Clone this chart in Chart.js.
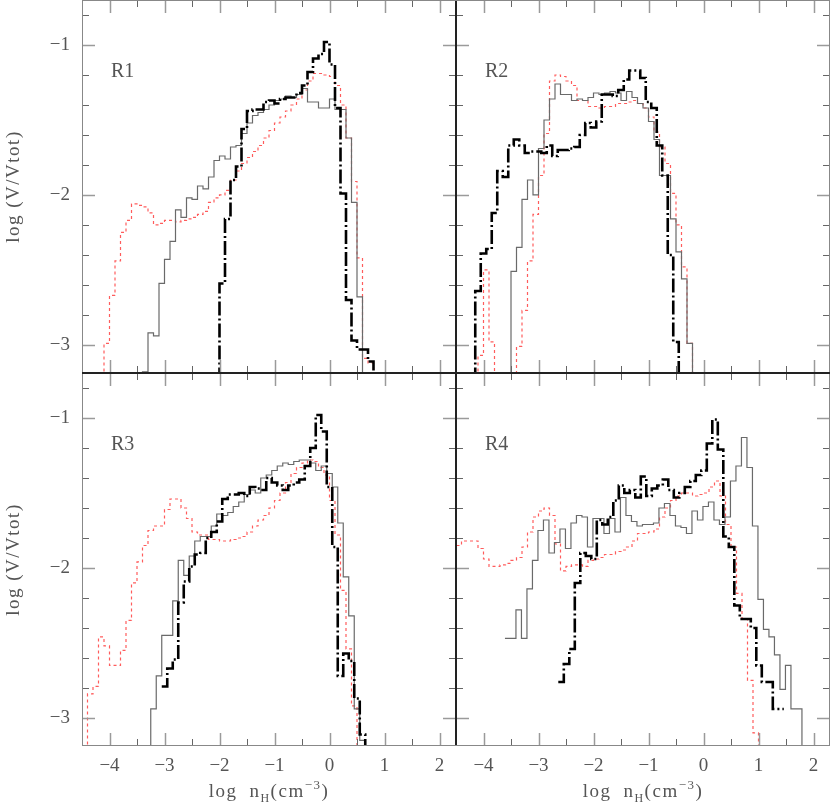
<!DOCTYPE html>
<html>
<head>
<meta charset="utf-8">
<script src="https://cdn.jsdelivr.net/npm/chart.js@4.4.1/dist/chart.umd.min.js"></script>
<style>
  html, body { margin: 0; padding: 0; background: #fff; }
  #wrap { position: relative; width: 830px; height: 809px; }
  .panel { position: absolute; }
</style>
</head>
<body>
<div id="wrap">
  <div class="panel" style="left:0;top:0;width:456px;height:373px"><canvas id="r1"></canvas></div>
  <div class="panel" style="left:456px;top:0;width:374px;height:373px"><canvas id="r2"></canvas></div>
  <div class="panel" style="left:0;top:373px;width:456px;height:436px"><canvas id="r3"></canvas></div>
  <div class="panel" style="left:456px;top:373px;width:374px;height:436px"><canvas id="r4"></canvas></div>
</div>
<script>
// histogram bins are 0.1 dex wide; FLOOR marks an empty bin (below the plotted range)
const FLOOR = -3.5;
const BIN = 0.1;

const X_TICKS = [-4, -3, -2, -1, 0, 1, 2];
const Y_TICKS = [-3, -2, -1];
const PANEL_NAMES = ["R1", "R2", "R3", "R4"];

// R1
const r1BlackStart = -2.1;
const r1Black = [FLOOR, -2.59, -2.16, -1.90, -1.81, -1.56, -1.44, -1.43, -1.43, -1.38, -1.37, -1.39, -1.36, -1.35, -1.35, -1.32, -1.27, -1.18, -1.09, -1.06, -0.98, -1.13, -1.42, -1.99, -2.70, -2.97, -3.03, -3.03, -3.11, FLOOR];
const r1GrayStart = -3.5;
const r1Gray = [FLOOR, -3.18, -2.92, -2.94, -2.59, -2.43, -2.31, -2.10, -2.15, -2.02, -2.03, -1.94, -1.96, -1.88, -1.77, -1.74, -1.76, -1.68, -1.67, -1.59, -1.52, -1.47, -1.45, -1.43, -1.40, -1.37, -1.36, -1.34, -1.35, -1.33, -1.29, -1.38, -1.38, -1.42, -1.42, -1.36, -1.43, -1.43, -1.62, -2.05, -2.68, FLOOR];
const r1RedStart = -4.2;
const r1Red = [FLOOR, -2.99, -2.67, -2.44, -2.25, -2.17, -2.06, -2.07, -2.08, -2.12, -2.20, -2.19, -2.17, -2.17, -2.18, -2.17, -2.16, -2.15, -2.13, -2.11, -2.05, -2.02, -2.00, -1.97, -1.90, -1.84, -1.79, -1.75, -1.71, -1.67, -1.62, -1.57, -1.52, -1.48, -1.44, -1.40, -1.36, -1.30, -1.24, -1.19, -1.19, -1.20, -1.21, -1.27, -1.40, -1.62, -1.91, -2.42, -3.09, -3.12, FLOOR];

// R2
const r2BlackStart = -4.25;
const r2Black = [FLOOR, -2.64, -2.39, -2.36, -2.12, -1.84, -1.88, -1.67, -1.63, -1.67, -1.72, -1.71, -1.71, -1.72, -1.67, -1.74, -1.70, -1.70, -1.69, -1.68, -1.60, -1.52, -1.55, -1.51, -1.33, -1.33, -1.34, -1.30, -1.23, -1.17, -1.17, -1.22, -1.38, -1.42, -1.67, -1.87, -2.40, -2.98, FLOOR];
const r2GrayStart = -3.6;
const r2Gray = [FLOOR, -2.51, -2.35, -2.03, -1.90, -2.00, -1.69, -1.50, -1.36, -1.26, -1.33, -1.33, -1.37, -1.36, -1.37, -1.35, -1.32, -1.33, -1.32, -1.31, -1.32, -1.37, -1.31, -1.35, -1.39, -1.42, -1.51, -1.63, -1.87, -1.87, -2.16, -2.38, -2.56, -2.99, FLOOR];
const r2RedStart = -4.2;
const r2Red = [FLOOR, -3.07, -2.50, -2.98, FLOOR, FLOOR, FLOOR, FLOOR, -3.01, -2.77, -2.44, -2.13, -1.87, -1.59, -1.24, -1.20, -1.21, -1.24, -1.27, -1.37, -1.37, -1.41, -1.41, -1.42, -1.41, -1.41, -1.39, -1.39, -1.38, -1.37, -1.39, -1.42, -1.48, -1.58, -1.68, -1.79, -1.99, -2.20, -2.48, -2.99, FLOOR];

// R3
const r3BlackStart = -3.05;
const r3Black = [-2.79, -2.67, -2.61, -2.23, -2.09, -1.99, -1.91, -1.90, -1.80, -1.76, -1.69, -1.54, -1.51, -1.51, -1.50, -1.52, -1.46, -1.47, -1.48, -1.40, -1.43, -1.45, -1.48, -1.45, -1.43, -1.41, -1.32, -1.20, -0.98, -1.09, -1.46, -1.86, -2.72, -2.57, -2.62, -2.87, -3.11, FLOOR];
const r3GrayStart = -3.35;
const r3Gray = [FLOOR, -2.94, -2.72, -2.45, -2.45, -2.22, -1.95, -2.05, -1.92, -1.82, -1.79, -1.79, -1.72, -1.64, -1.65, -1.63, -1.59, -1.56, -1.51, -1.48, -1.50, -1.40, -1.38, -1.35, -1.32, -1.30, -1.31, -1.29, -1.28, -1.28, -1.30, -1.35, -1.32, -1.37, -1.46, -1.70, -2.06, -2.32, -2.94, -3.15, FLOOR];
const r3RedStart = -4.5;
const r3Red = [FLOOR, -2.84, -2.79, -2.46, -2.52, -2.65, -2.65, -2.55, -2.35, -2.10, -1.96, -1.85, -1.75, -1.72, -1.72, -1.61, -1.54, -1.54, -1.60, -1.67, -1.76, -1.78, -1.78, -1.81, -1.81, -1.82, -1.82, -1.81, -1.80, -1.79, -1.76, -1.72, -1.68, -1.65, -1.60, -1.55, -1.50, -1.43, -1.37, -1.33, -1.30, -1.28, -1.29, -1.33, -1.38, -1.55, -1.78, -2.15, -2.54, -2.92, FLOOR];

// R4
const r4BlackStart = -2.64;
const r4Black = [-2.76, -2.64, -2.54, -2.10, -1.90, -1.92, -1.94, -1.68, -1.71, -1.66, -1.55, -1.45, -1.50, -1.48, -1.53, -1.39, -1.52, -1.47, -1.45, -1.41, -1.48, -1.53, -1.50, -1.46, -1.42, -1.38, -1.35, -1.17, -1.01, -1.21, -1.79, -1.86, -2.25, -2.34, -2.34, -2.40, -2.65, -2.76, -2.76, -2.94, -2.94];
const r4GrayStart = -3.61;
const r4Gray = [-2.47, -2.47, -2.28, -2.47, -2.14, -1.95, -1.75, -1.68, -1.90, -1.83, -1.74, -1.87, -1.70, -1.65, -1.66, -1.86, -1.67, -1.67, -1.77, -1.67, -1.76, -1.53, -1.65, -1.69, -1.72, -1.71, -1.71, -1.70, -1.60, -1.57, -1.65, -1.72, -1.73, -1.77, -1.62, -1.68, -1.59, -1.56, -1.68, -1.71, -1.66, -1.42, -1.32, -1.13, -1.33, -1.72, -2.21, -2.41, -2.46, -2.58, -2.81, -2.65, -2.94, -2.94, FLOOR];
const r4RedStart = -4.6;
const r4Red = [-1.85, -1.85, -1.82, -1.82, -1.82, -1.87, -1.94, -1.99, -1.99, -1.98, -1.97, -1.95, -1.93, -1.86, -1.76, -1.66, -1.62, -1.60, -1.65, -1.84, -2.02, -1.99, -1.98, -1.98, -1.99, -1.95, -1.94, -1.93, -1.91, -1.91, -1.89, -1.88, -1.86, -1.82, -1.77, -1.77, -1.76, -1.74, -1.66, -1.60, -1.55, -1.52, -1.50, -1.50, -1.52, -1.51, -1.50, -1.46, -1.42, -1.52, -1.71, -1.86, -2.17, -2.34, -2.75, -3.10, FLOOR];

const TEXT_COLOR = "#555";
const FONT = "Liberation Serif";
Chart.defaults.font.family = FONT;
Chart.defaults.color = TEXT_COLOR;

// bin values -> step points at bin left edges, closed at the right edge of the last bin
function steps(start, vals) {
	const pts = vals.map((v, i) => ({ x: start + i * BIN, y: v }));
	pts.push({ x: start + vals.length * BIN, y: vals[vals.length - 1] });
	return pts;
}

function minus(v) {
	return v < 0 ? "\u2212" + Math.abs(v) : String(v);
}

// frame, inward ticks on all four sides, panel name and axis titles
const panelDecor = {
	id: "panelDecor",
	afterDatasetsDraw(chart, args, opts) {
		const { ctx, chartArea: a } = chart;
		const xs = chart.scales.x;
		const ys = chart.scales.y;
		ctx.save();

		const line = (x1, y1, x2, y2, w, c) => {
			ctx.beginPath();
			ctx.lineWidth = w;
			ctx.strokeStyle = c;
			ctx.moveTo(x1, y1);
			ctx.lineTo(x2, y2);
			ctx.stroke();
		};

		for (let k = Math.ceil(xs.min * 2); k <= Math.floor(xs.max * 2); k++) {
			const major = k % 2 === 0;
			const len = major ? 13 : 7;
			const px = Math.round(xs.getPixelForValue(k / 2)) + 0.5;
			line(px, a.bottom, px, a.bottom - len, major ? 1.5 : 1, major ? "#9a9a9a" : "#666");
			line(px, a.top, px, a.top + len, major ? 1.5 : 1, major ? "#9a9a9a" : "#666");
		}
		for (let k = Math.ceil(ys.min * 5); k <= Math.floor(ys.max * 5); k++) {
			const major = k % 5 === 0;
			const len = major ? 13 : 7;
			const py = Math.round(ys.getPixelForValue(k / 5)) + 0.5;
			line(a.left, py, a.left + len, py, major ? 1.5 : 1, major ? "#9a9a9a" : "#666");
			line(a.right, py, a.right - len, py, major ? 1.5 : 1, major ? "#9a9a9a" : "#666");
		}

		const L = a.left + 0.5, R = a.right - 0.5, T = a.top + 0.5, B = a.bottom - 0.5;
		const edge = (side) => (opts.inner.includes(side) ? "#222" : "#888");
		line(L, a.top, L, a.bottom, 1, edge("left"));
		line(R, a.top, R, a.bottom, 1, edge("right"));
		line(a.left, T, a.right, T, 1, edge("top"));
		line(a.left, B, a.right, B, 1, edge("bottom"));

		ctx.fillStyle = TEXT_COLOR;
		ctx.textBaseline = "alphabetic";
		ctx.textAlign = "left";
		ctx.font = "20px " + FONT;
		ctx.fillText(opts.name, a.left + 29, a.top + 77);

		ctx.letterSpacing = "1.5px";
		if (opts.yTitle) {
			ctx.save();
			ctx.translate(19, (a.top + a.bottom) / 2);
			ctx.rotate(-Math.PI / 2);
			ctx.textAlign = "center";
			ctx.font = "19px " + FONT;
			ctx.fillText("log (V/Vtot)", 0, 0);
			ctx.restore();
		}

		if (opts.xTitle) {
			const parts = [
				{ t: "log", s: 19, dy: 0, gap: 12 },
				{ t: "n", s: 19, dy: 0 },
				{ t: "H", s: 12, dy: 5 },
				{ t: "(cm", s: 19, dy: 0 },
				{ t: "\u22123", s: 13, dy: -8 },
				{ t: ")", s: 19, dy: 0 },
			];
			let total = 0;
			parts.forEach((p) => {
				ctx.font = p.s + "px " + FONT;
				p.w = ctx.measureText(p.t).width + (p.gap || 0);
				total += p.w;
			});
			let x = (a.left + a.right) / 2 - total / 2;
			const base = a.bottom + 51;
			parts.forEach((p) => {
				ctx.font = p.s + "px " + FONT;
				ctx.fillText(p.t, x, base + p.dy);
				x += p.w;
			});
		}
		ctx.restore();
	},
};

function makePanel(id, idx, series, left, bottom, inner) {
	const [black, gray, red] = series;
	return new Chart(document.getElementById(id), {
		type: "line",
		data: {
			datasets: [
				{ data: black, borderColor: "#000", borderWidth: 2.6, borderDash: [14, 3, 2, 3] },
				{ data: gray, borderColor: "#6a6a6a", borderWidth: 1.2 },
				{ data: red, borderColor: "#ff5c5c", borderWidth: 1.2, borderDash: [3, 3] },
			].map((d) => ({ ...d, stepped: true, pointRadius: 0, fill: false, tension: 0 })),
		},
		options: {
			responsive: true,
			maintainAspectRatio: false,
			animation: false,
			events: [],
			layout: { padding: 0 },
			plugins: {
				legend: { display: false },
				tooltip: { enabled: false },
				panelDecor: { name: PANEL_NAMES[idx], xTitle: bottom, yTitle: left, inner: inner },
			},
			scales: {
				x: {
					type: "linear",
					min: -4.5,
					max: 2.3,
					display: bottom,
					grid: { display: false, drawTicks: false },
					border: { display: false },
					afterBuildTicks: (s) => { s.ticks = X_TICKS.map((v) => ({ value: v })); },
					afterFit: (s) => {
						s.height = bottom ? 63 : 0;
						s.paddingLeft = 0;
						s.paddingRight = 0;
					},
					ticks: { padding: 9, font: { size: 19 }, color: TEXT_COLOR, callback: (v) => minus(v), maxRotation: 0 },
				},
				y: {
					type: "linear",
					min: -3.187,
					max: -0.7,
					display: left,
					grid: { display: false, drawTicks: false },
					border: { display: false },
					afterBuildTicks: (s) => { s.ticks = Y_TICKS.map((v) => ({ value: v })); },
					afterFit: (s) => {
						s.width = left ? 82 : 0;
						s.paddingTop = 0;
						s.paddingBottom = 0;
					},
					ticks: { padding: 12, font: { size: 19 }, color: TEXT_COLOR, callback: (v) => minus(v) },
				},
			},
		},
		plugins: [panelDecor],
	});
}

makePanel("r1", 0, [steps(r1BlackStart, r1Black), steps(r1GrayStart, r1Gray), steps(r1RedStart, r1Red)], true, false, ["right", "bottom"]);
makePanel("r2", 1, [steps(r2BlackStart, r2Black), steps(r2GrayStart, r2Gray), steps(r2RedStart, r2Red)], false, false, ["left", "bottom"]);
makePanel("r3", 2, [steps(r3BlackStart, r3Black), steps(r3GrayStart, r3Gray), steps(r3RedStart, r3Red)], true, true, ["right", "top"]);
makePanel("r4", 3, [steps(r4BlackStart, r4Black), steps(r4GrayStart, r4Gray), steps(r4RedStart, r4Red)], false, true, ["left", "top"]);
</script>
</body>
</html>
